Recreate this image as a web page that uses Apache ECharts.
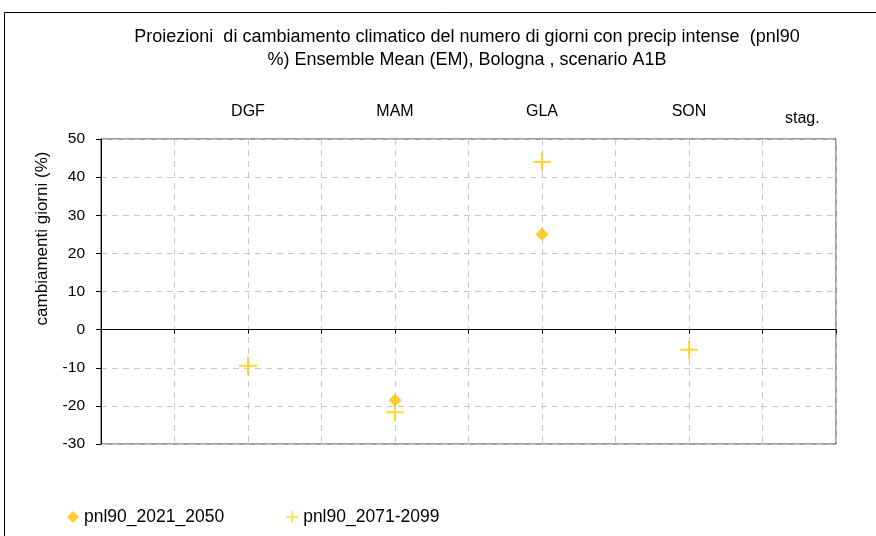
<!DOCTYPE html>
<html><head><meta charset="utf-8">
<script src="https://cdn.jsdelivr.net/npm/echarts@6/dist/echarts.min.js"></script>
<style>html,body{margin:0;padding:0;background:#fff}#c{width:876px;height:536px}</style>
</head><body><div id="c"></div>
<script>
// ---- data ----
const titleLines = ['Proiezioni  di cambiamento climatico del numero di giorni con precip intense  (pnl90', '%) Ensemble Mean (EM), Bologna , scenario A1B'];
const categories = ['DGF', 'MAM', 'GLA', 'SON'];
const categoryPos = [1, 2, 3, 4];
const extraCategory = 'stag.';
const seriesNames = ['pnl90_2021_2050', 'pnl90_2071-2099'];
const pnl90_2021_2050 = [null, -18.5, 25, null];
const pnl90_2071_2099 = [-9.5, -21.7, 44, -5.3];
const yMin = -30, yMax = 50, yStep = 10;
const yAxisName = 'cambiamenti giorni (%)';

// ---- chart ----
const FONT = 'Liberation Sans, Arial, sans-serif';
const plusPath = 'path://M0,8H18V10H0Z M8,0H10V18H8Z';
function pts(vals) {
  return categoryPos.map((x, i) => vals[i] == null ? null : [x, vals[i]]).filter(Boolean);
}
const chart = echarts.init(document.getElementById('c'), null, {renderer: 'canvas'});
chart.setOption({
  animation: false,
  backgroundColor: '#fff',
  textStyle: {fontFamily: FONT},
  title: {
    text: titleLines.join('\n'),
    left: 462, top: 21, textAlign: 'center',
    textStyle: {fontFamily: FONT, fontSize: 18, fontWeight: 'normal', color: '#000', lineHeight: 23}
  },
  grid: {left: 101, right: 40, top: 139, bottom: 92, show: true, borderColor: '#404040', borderWidth: 1, containLabel: false},
  xAxis: [{
    type: 'value', min: 0, max: 5, interval: 0.5,
    axisLine: {show: true, onZero: true, lineStyle: {color: '#000', width: 1}},
    axisTick: {show: true, length: 4, lineStyle: {color: '#000'}},
    axisLabel: {show: false},
    splitLine: {show: true, lineStyle: {color: '#c8c8c8', type: [6, 5], width: 1}}
  }, {
    type: 'value', position: 'top', min: 0, max: 5, interval: 1,
    axisLine: {show: false}, axisTick: {show: false}, splitLine: {show: false},
    axisLabel: {show: true, margin: 19, fontFamily: FONT, fontSize: 16, color: '#000',
      showMinLabel: true, showMaxLabel: true,
      formatter: v => { const i = categoryPos.indexOf(v); return i >= 0 ? categories[i] : ''; }}
  }],
  yAxis: {
    type: 'value', min: yMin, max: yMax, interval: yStep,
    axisLine: {show: true, onZero: false, lineStyle: {color: '#000', width: 1}},
    axisTick: {show: true, length: 5, lineStyle: {color: '#000'}},
    axisLabel: {margin: 16, fontFamily: FONT, fontSize: 15.5, color: '#000'},
    splitLine: {show: true, lineStyle: {color: '#c8c8c8', type: [6, 5], width: 1}},
    name: yAxisName, nameLocation: 'middle', nameGap: 50, nameRotate: 90,
    nameTextStyle: {fontFamily: FONT, fontSize: 17, color: '#000', padding: [0, 0, 0, 106]}
  },
  legend: {
    left: 62, top: 503, itemWidth: 12, itemHeight: 12, itemGap: 62,
    textStyle: {fontFamily: FONT, fontSize: 17.5, color: '#000'},
    data: [{name: seriesNames[0], icon: 'diamond'}, {name: seriesNames[1], icon: plusPath}]
  },
  series: [{
    name: seriesNames[0], type: 'scatter', symbol: 'diamond', symbolSize: 13,
    itemStyle: {color: '#FFC000'}, data: pts(pnl90_2021_2050), z: 3
  }, {
    name: seriesNames[1], type: 'scatter', symbol: plusPath, symbolSize: [18, 18],
    itemStyle: {color: '#FFCC00'}, data: pts(pnl90_2071_2099), z: 4
  }],
  graphic: [{
    type: 'rect', silent: true, z: -1,
    shape: {x: 4.5, y: 12.5, width: 1000, height: 1000},
    style: {fill: 'none', stroke: '#000', lineWidth: 1}
  }, {
    type: 'text', left: 785, top: 111, silent: true,
    style: {text: extraCategory, fontFamily: FONT, fontSize: 16, fill: '#000'}
  }]
});
</script></body></html>
